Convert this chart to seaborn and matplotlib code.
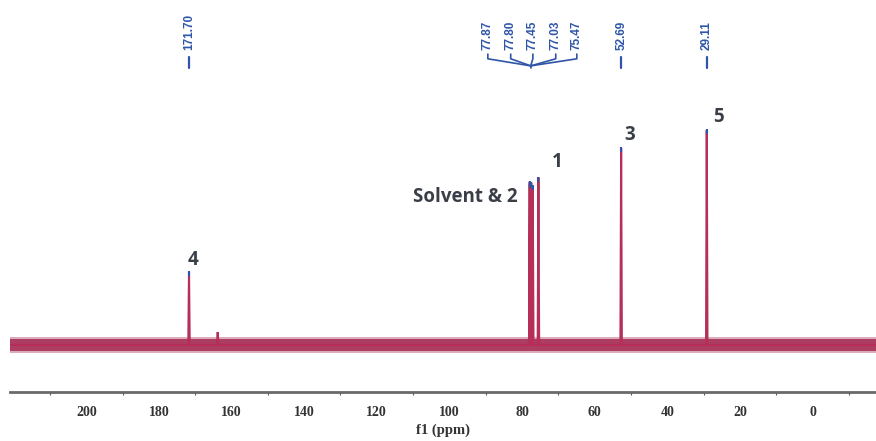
import numpy as np
import pandas as pd
import matplotlib
matplotlib.use("Agg")
import matplotlib.pyplot as plt
import seaborn as sns

# ---- data ----
peak_ppm = [171.70, 163.8, 77.87, 77.80, 77.45, 77.03, 75.47, 52.69, 29.11]
peak_height = [34.0, 6.0, 76.0, 75.0, 75.5, 74.0, 78.0, 91.6, 100.0]
label_ppm = [171.70, 77.87, 77.80, 77.45, 77.03, 75.47, 52.69, 29.11]
label_text = ["171.70", "77.87", "77.80", "77.45", "77.03", "75.47", "52.69", "29.11"]
assign_text = ["4", "Solvent & 2", "1", "3", "5"]
assign_ppm = [170.6, 95.7, 70.4, 50.3, 25.9]
assign_y = [39.5, 68.8, 85.0, 97.7, 106.0]
xticks_major = [200, 180, 160, 140, 120, 100, 80, 60, 40, 20, 0]
x_range = [221.0, -17.5]

# build spectrum trace from peak list
rows = [(x_range[0], 0.0)]
for p, h in sorted(zip(peak_ppm, peak_height), key=lambda t: -t[0]):
    rows += [(p + 0.2, 0.0), (p, h), (p - 0.2, 0.0)]
rows.append((x_range[1], 0.0))
spec = pd.DataFrame(rows, columns=["ppm", "intensity"])

sns.set_style("white")
fig = plt.figure(figsize=(8.76, 4.41), dpi=100)
ax = fig.add_axes([10 / 876, 49 / 441, 866 / 876, 392 / 441])

red = "#b52f58"
blue = "#2f55a8"

# noise band of baseline
ax.fill_between(x_range, [-2.6, -2.6], [2.6, 2.6], color="#ad3d62", lw=0, zorder=1)
ax.fill_between(x_range, [-3.6, -3.6], [3.6, 3.6], color="#c7768f", lw=0, zorder=0, alpha=0.6)
sns.lineplot(data=spec, x="ppm", y="intensity", sort=False, estimator=None,
             color=red, lw=1.5, ax=ax, zorder=2)
for line in ax.lines:
    line.set_solid_joinstyle("miter")
    line.set_solid_capstyle("butt")
# blue tips of peaks
for p, h in zip(peak_ppm, peak_height):
    if h > 20:
        ax.plot([p, p], [h - 2.0, h + 0.3], color=blue, lw=1.5, zorder=3,
                solid_capstyle="butt")

ax.set_xlim(x_range[0], x_range[1])
ax.set_ylim(-21.9, 160.5)
ax.set_yticks([])
for s in ["top", "left", "right"]:
    ax.spines[s].set_visible(False)
ax.spines["bottom"].set_color("#6a6a6a")
ax.spines["bottom"].set_linewidth(2.0)

ax.set_xticks(xticks_major)
ax.set_xticks(np.arange(210, -20, -10), minor=True)
ax.tick_params(axis="x", which="major", direction="out", length=4, width=1,
               color="#555555", pad=6)
ax.tick_params(axis="x", which="minor", direction="out", length=2.5, width=0.8,
               color="#555555", bottom=True)
for lab in ax.get_xticklabels():
    lab.set_fontfamily("Liberation Serif")
    lab.set_fontweight("bold")
    lab.set_fontsize(10)
    lab.set_color("#333333")
ax.set_xlabel("f1 (ppm)", fontfamily="Liberation Serif", fontweight="bold",
              fontsize=10.5, color="#333333", labelpad=3)
ax.set_ylabel("")

# top peak labels
group = [l for l in label_ppm if 74 < l < 79]
conv = 77.6
group_pos = [89.4, 83.1, 77.0, 70.7, 64.9]
gi = 0
trans = ax.get_xaxis_transform()
for l, t in zip(label_ppm, label_text):
    if l in group:
        xp = group_pos[gi]
        gi += 1
        ax.text(xp, 0.872, t, rotation=90, ha="center", va="bottom",
                fontsize=8.5, fontweight="bold", color=blue,
                fontfamily="Liberation Sans", transform=trans)
        ax.plot([xp, xp, conv], [0.862, 0.850, 0.832], color=blue, lw=1.2,
                transform=trans, clip_on=False)
    else:
        ax.text(l, 0.872, t, rotation=90, ha="center", va="bottom",
                fontsize=8.5, fontweight="bold", color=blue,
                fontfamily="Liberation Sans", transform=trans)
        ax.plot([l, l], [0.855, 0.826], color=blue, lw=1.6, transform=trans)
ax.plot([conv, conv], [0.832, 0.826], color=blue, lw=1.2, transform=trans)

# assignment labels
for t, xp, yp in zip(assign_text, assign_ppm, assign_y):
    ax.text(xp, yp, t, ha="center", va="center", fontsize=13.5,
            fontweight="bold", color="#3a3f47", fontfamily="Open Sans")

fig.savefig("out.png", dpi=100)
